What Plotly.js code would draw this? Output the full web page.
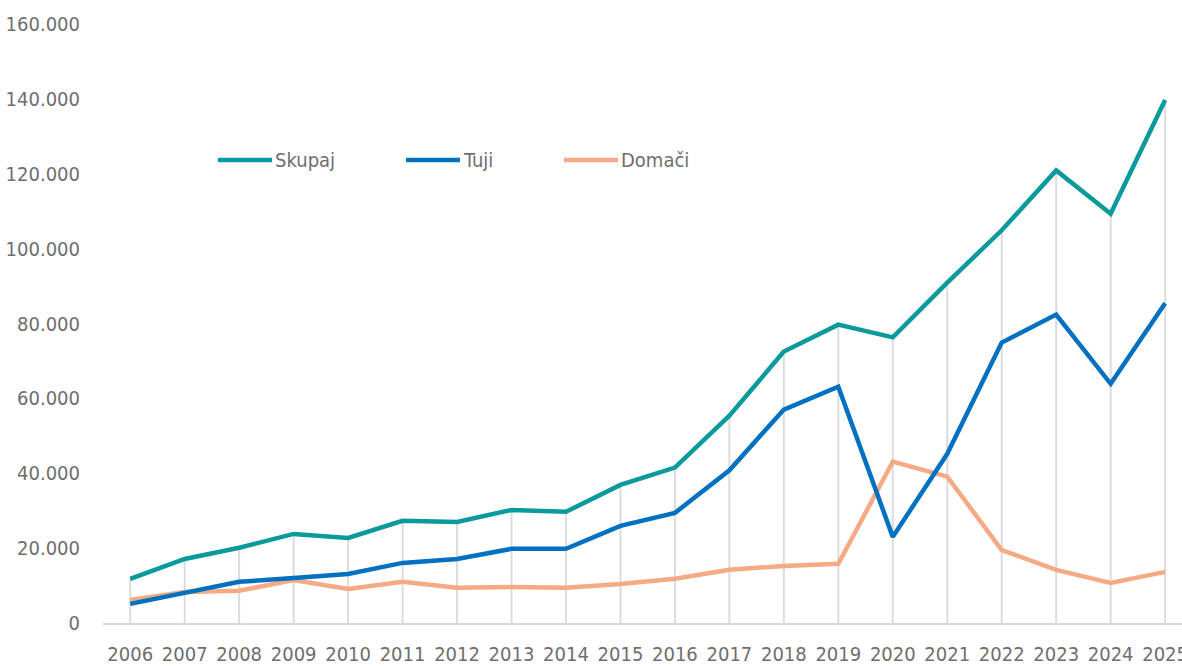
<!DOCTYPE html>
<html>
<head>
<meta charset="utf-8">
<script src="https://cdn.plot.ly/plotly-3.0.1.min.js"></script>
<style>
html,body{margin:0;padding:0;background:#fff;}
#chart{width:1182px;height:666px;}
</style>
</head>
<body>
<div id="chart"></div>
<script>
const years = [2006,2007,2008,2009,2010,2011,2012,2013,2014,2015,2016,2017,2018,2019,2020,2021,2022,2023,2024,2025];
const skupaj = [11800,17100,20100,23800,22700,27300,27000,30200,29700,36900,41500,55400,72500,79700,76300,90900,104900,120900,109300,139700];
const tuji   = [5100,8000,11000,12000,13100,16050,17100,19800,19800,25950,29400,40800,57000,63100,23000,45200,74900,82400,63900,85400];
const domaci = [6150,8300,8600,11500,9100,11000,9400,9600,9400,10400,11800,14200,15250,15800,43100,39100,19500,14200,10700,13650];
const seriesNames = ['Skupaj','Tuji','Domači'];
const seriesColors = ['#0a9a9b','#0070c0','#f4aa85'];
const yTicks = [0,20000,40000,60000,80000,100000,120000,140000,160000];

const FONT = '"DejaVu Sans Condensed","Liberation Sans Narrow","Roboto",sans-serif';
const TXT = '#6e6e6e';
const FS = 20;

// drop lines from axis up to the top series
const dropX = [], dropY = [];
years.forEach((yr, i) => {
  const top = Math.max(skupaj[i], tuji[i], domaci[i]);
  dropX.push(yr, yr, null);
  dropY.push(0, top, null);
});

const traces = [
  {x: dropX, y: dropY, mode: 'lines', line: {color: '#dcdcdc', width: 2}, hoverinfo: 'skip', showlegend: false},
  {x: years, y: domaci, name: seriesNames[2], mode: 'lines', line: {color: seriesColors[2], width: 4.5}},
  {x: years, y: tuji, name: seriesNames[1], mode: 'lines', line: {color: seriesColors[1], width: 4.5}},
  {x: years, y: skupaj, name: seriesNames[0], mode: 'lines', line: {color: seriesColors[0], width: 4.5}}
];

// custom legend (pixel layout converted to paper coords)
const L = 103, R = 1182, T = 24, B = 623.5;
const px = v => (v - L) / (R - L);
const py = v => (B - v) / (B - T);
const legendItems = [
  {x0: 218, name: seriesNames[0], color: seriesColors[0]},
  {x0: 406, name: seriesNames[1], color: seriesColors[1]},
  {x0: 564, name: seriesNames[2], color: seriesColors[2]}
];
const shapes = legendItems.map(it => ({
  type: 'line', xref: 'paper', yref: 'paper',
  x0: px(it.x0), x1: px(it.x0 + 54), y0: py(160), y1: py(160),
  line: {color: it.color, width: 4.5}
}));
const annotations = legendItems.map(it => ({
  xref: 'paper', yref: 'paper', x: px(it.x0 + 55), y: py(160),
  xanchor: 'left', yanchor: 'middle', showarrow: false,
  text: it.name, font: {family: FONT, size: FS, color: TXT}
}));

const layout = {
  width: 1182, height: 666,
  margin: {l: L, r: 0, t: T, b: 666 - B},
  paper_bgcolor: '#fff', plot_bgcolor: '#fff',
  separators: ',.',
  showlegend: false,
  font: {family: FONT, size: FS, color: TXT},
  xaxis: {
    range: [2005.5, 2025.31], tickmode: 'array', tickvals: years, ticktext: years.map(String),
    tickangle: 0, ticklabeloverflow: 'allow',
    showgrid: false, zeroline: false, showline: true, linecolor: '#d9d9d9', linewidth: 2,
    ticks: '', ticklabelstandoff: 12, tickfont: {family: FONT, size: FS, color: TXT}
  },
  yaxis: {
    range: [0, 160000], tickmode: 'array', tickvals: yTicks, tickformat: ',d',
    showgrid: false, zeroline: false, showline: false,
    ticks: '', ticklabelstandoff: 22, tickfont: {family: FONT, size: FS, color: TXT}
  },
  shapes: shapes,
  annotations: annotations
};

Plotly.newPlot('chart', traces, layout, {displayModeBar: false, staticPlot: true});
</script>
</body>
</html>
